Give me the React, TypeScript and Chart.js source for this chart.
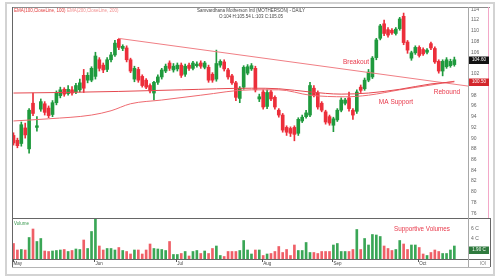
import React, { useEffect, useRef } from "react";
import { Chart, registerables } from "chart.js";

Chart.register(...registerables);

// ---- Daily candles (MOTHERSON), May–Oct ----
const opens = [
  90.5, 89.6, 89.0, 91.9, 88.0, 96.5, 92.0, 95.4, 96.4, 95.6,
  94.4, 96.6, 97.9, 99.1, 98.3, 99.0, 98.6, 99.0, 101.7, 100.8,
  100.8, 101.5, 104.6, 103.6, 102.8, 104.6, 105.5, 108.4, 106.7, 106.8,
  104.6, 101.0, 102.8, 101.5, 100.8, 99.8, 98.4, 100.4, 101.4, 102.5,
  104.0, 102.7, 102.9, 103.6, 101.9, 103.6, 103.0, 103.5, 104.0, 103.2,
  103.2, 101.9, 101.0, 103.6, 104.2, 102.7, 101.6, 100.3, 97.4, 99.5,
  102.1, 102.9, 103.0, 97.3, 98.6, 95.9, 98.6, 97.6, 95.2, 94.3,
  92.0, 91.8, 92.0, 90.9, 93.2, 94.0, 94.3, 99.3, 98.4, 96.5,
  94.9, 94.0, 92.4, 93.4, 95.2, 96.5, 97.5, 95.2, 95.0, 99.5,
  99.2, 100.8, 101.4, 105.0, 108.6, 111.3, 110.2, 110.1, 109.5, 110.4,
  112.7, 107.9, 104.9, 105.9, 106.9, 106.5, 106.0, 107.6, 106.7, 104.3,
  102.5, 103.3, 103.5, 103.7,
];
const highs = [
  91.0, 90.0, 93.0, 92.8, 95.5, 98.4, 94.0, 97.3, 96.8, 96.0,
  97.0, 98.8, 99.5, 99.4, 99.8, 99.6, 100.2, 101.0, 102.8, 102.2,
  103.3, 106.0, 105.0, 104.0, 105.0, 106.0, 108.2, 108.6, 107.4, 107.2,
  104.9, 103.4, 103.2, 101.8, 101.1, 100.1, 100.6, 101.8, 103.0, 103.8,
  104.4, 103.9, 104.0, 104.0, 103.8, 104.0, 104.3, 104.2, 104.4, 104.3,
  103.6, 102.2, 106.4, 104.6, 104.6, 103.0, 101.9, 100.6, 99.6, 103.5,
  103.7, 103.9, 103.4, 98.2, 99.0, 99.0, 98.9, 97.9, 95.5, 94.6,
  92.3, 92.1, 92.3, 93.8, 94.3, 95.2, 100.4, 99.8, 98.8, 96.8,
  95.2, 94.3, 93.9, 95.5, 97.5, 97.4, 98.6, 95.5, 99.0, 99.9,
  101.2, 102.8, 105.2, 108.6, 111.2, 112.0, 110.6, 110.4, 110.6, 112.5,
  113.3, 108.2, 106.2, 107.2, 107.2, 106.8, 106.7, 107.9, 107.0, 104.6,
  104.6, 105.0, 104.7, 105.1,
];
const lows = [
  88.7, 88.2, 88.5, 90.0, 87.2, 94.2, 91.3, 95.0, 94.3, 93.8,
  94.0, 96.2, 97.5, 97.8, 98.0, 98.0, 98.3, 98.6, 98.5, 100.3,
  100.5, 101.0, 102.5, 102.2, 102.4, 104.2, 105.2, 106.5, 106.3, 104.2,
  102.2, 100.5, 100.4, 99.5, 99.2, 98.4, 97.1, 100.0, 101.0, 102.2,
  102.6, 102.3, 102.5, 101.3, 101.5, 102.6, 102.7, 103.2, 103.0, 102.9,
  100.4, 100.4, 100.6, 103.2, 102.5, 101.0, 100.0, 97.0, 96.6, 99.1,
  101.8, 102.6, 98.6, 96.8, 95.4, 95.5, 97.0, 95.4, 93.9, 91.1,
  90.5, 90.3, 89.5, 90.5, 92.9, 93.7, 94.0, 97.7, 95.4, 94.9,
  92.6, 92.4, 91.2, 93.1, 94.9, 96.2, 95.0, 93.5, 94.6, 98.5,
  98.9, 100.5, 101.1, 104.6, 108.3, 109.1, 108.8, 109.3, 109.2, 110.1,
  107.4, 105.8, 104.5, 105.6, 105.1, 105.4, 105.7, 106.5, 103.9, 102.1,
  101.6, 103.0, 103.2, 103.4,
];
const closes = [
  89.1, 88.6, 92.5, 90.6, 95.2, 94.6, 92.3, 96.8, 94.8, 94.2,
  96.6, 98.4, 99.0, 98.2, 99.1, 98.4, 99.8, 100.3, 99.3, 101.7,
  103.0, 105.3, 103.0, 102.7, 104.6, 105.5, 107.7, 106.9, 107.1, 104.6,
  102.5, 103.0, 100.8, 99.8, 99.5, 98.8, 100.4, 101.4, 102.7, 103.4,
  103.0, 103.4, 103.6, 101.7, 103.4, 103.0, 104.0, 103.8, 103.4, 104.0,
  100.8, 100.8, 103.9, 104.3, 102.9, 101.4, 100.3, 97.6, 99.3, 103.2,
  103.3, 103.5, 99.0, 97.7, 95.8, 98.5, 97.3, 95.8, 94.3, 91.5,
  91.1, 90.9, 90.7, 93.5, 93.9, 94.7, 99.8, 98.0, 95.8, 95.2,
  93.0, 92.8, 93.6, 95.2, 97.1, 97.1, 95.5, 94.3, 98.6, 98.9,
  100.8, 102.3, 104.9, 108.3, 110.9, 109.5, 109.2, 109.6, 110.3, 112.2,
  107.8, 106.4, 105.9, 106.9, 105.4, 105.7, 106.4, 106.8, 104.2, 102.5,
  104.3, 104.6, 104.3, 104.6,
];
// volume in crore shares
const volumes = [
  3.1, 1.8, 1.9, 1.8, 4.3, 6.0, 3.5, 4.1, 1.6, 1.5,
  1.6, 1.7, 1.8, 1.9, 1.5, 1.7, 2.0, 1.9, 3.8, 2.1,
  5.5, 8.1, 2.6, 1.8, 2.1, 2.1, 1.8, 2.3, 1.7, 1.5,
  1.0, 1.8, 1.8, 1.0, 1.8, 3.0, 2.1, 2.0, 1.9, 1.7,
  3.5, 0.9, 0.9, 1.1, 1.5, 0.6, 1.5, 1.7, 1.1, 1.6,
  1.1, 2.1, 2.6, 0.7, 0.5, 1.5, 1.5, 1.5, 1.7, 3.7,
  1.8, 1.0, 1.8, 1.8, 0.7, 1.0, 1.1, 1.5, 2.5, 1.3,
  1.9, 0.7, 2.8, 1.7, 1.7, 3.3, 1.3, 1.3, 1.1, 1.5,
  1.5, 1.5, 2.8, 3.1, 1.5, 1.5, 1.5, 1.9, 5.9, 1.9,
  4.1, 2.8, 4.9, 4.8, 4.5, 2.6, 2.1, 1.7, 1.9, 3.7,
  3.0, 1.9, 2.8, 2.8, 2.3, 1.0, 0.7, 1.3, 1.8, 1.5,
  1.1, 1.1, 1.8, 2.6,
];

// EMA lines: key points (candle index, value)
const ema100Index = [0, 12, 27, 43, 61, 68, 76, 84, 91, 99, 107, 113];
const ema100Value = [98.4, 98.5, 98.7, 99.0, 99.3, 99.2, 98.6, 98.2, 98.4, 99.1, 100.1, 100.5];
const ema200Index = [0, 9, 20, 25, 30, 38, 48, 61, 68, 76, 85, 91, 99, 107, 113];
const ema200Value = [93.2, 93.6, 94.3, 95.1, 96.4, 97.1, 98.0, 99.0, 99.0, 98.0, 97.7, 98.0, 99.0, 99.9, 100.6];

// Falling trendline from the June high
const trendIndex = [26.8, 116.5];
const trendValue = [108.6, 99.7];

const monthLabels = ["May", "Jun", "Jul", "Aug", "Sep", "Oct"];
const monthStarts = [0, 21, 42, 64, 82, 104];

const priceTicks = [76, 78, 80, 82, 84, 86, 88, 90, 92, 94, 96, 98, 100, 102, 104, 106, 108, 110, 112, 114];
const volumeTicks = [4, 6];
const volumeBoxValue = 1.9;

const titleLine1 = "Samvardhana Motherson Intl (MOTHERSON) - DAILY";
const titleLine2 = "O:104 H:105.54 L:103 C:105.05";
const legend1 = "EMA(100,CloseLine, 100)";
const legend2 = "EMA(200,CloseLine, 200)";

const FONT = "'Liberation Sans', Arial, sans-serif";
const GREEN = "#1f9a3d";
const RED = "#ec2e3a";
const VGREEN = "#3aa656";
const VRED = "#ef5f67";
const NOTE = "#e8384a";

export default function App() {
  const ref = useRef<HTMLCanvasElement>(null);

  useEffect(() => {
    const canvas = ref.current;
    if (!canvas) return;
    const idx = opens.map((_, i) => i);
    const up = idx.map((i) => closes[i] >= opens[i]);
    const candleColors = up.map((u) => (u ? GREEN : RED));
    const volColors = up.map((u) => (u ? VGREEN : VRED));
    const last = opens.length - 1;

    const overlay = {
      id: "overlay",
      afterDraw(chart: any) {
        const ctx = chart.ctx as CanvasRenderingContext2D;
        const xs = chart.scales.x;
        const ys = chart.scales.y;
        const yv = chart.scales.yv;
        const { left: L, right: R, top: T, bottom: B } = chart.chartArea;
        const AX = R + 22;
        const sep = yv.top;
        ctx.save();
        const hline = (y: number, x0: number, x1: number, c: string) => {
          ctx.strokeStyle = c; ctx.lineWidth = 1; ctx.beginPath();
          ctx.moveTo(x0, Math.round(y) + 0.5); ctx.lineTo(x1, Math.round(y) + 0.5); ctx.stroke();
        };
        const vline = (x: number, y0: number, y1: number, c: string) => {
          ctx.strokeStyle = c; ctx.lineWidth = 1; ctx.beginPath();
          ctx.moveTo(Math.round(x) + 0.5, y0); ctx.lineTo(Math.round(x) + 0.5, y1); ctx.stroke();
        };
        const txt = (s: string, x: number, y: number, c: string, size: number, align: CanvasTextAlign = "left") => {
          ctx.fillStyle = c; ctx.font = `${size}px ${FONT}`; ctx.textAlign = align; ctx.textBaseline = "middle";
          ctx.fillText(s, x, y);
        };
        // frame
        hline(T, L, AX, "#8c8c8c");
        vline(L, T, B + 8, "#666");
        hline(sep, L, AX, "#666");
        hline(B, L, AX, "#666");
        vline(R, T, B + 8, "#a8a8a8");
        vline(AX - 2, T, sep, "#f3a8c8");
        vline(AX, sep, B + 8, "#666");
        hline(B + 8, L, AX, "#b4b4b4");

        // month axis
        monthStarts.forEach((m, k) => {
          const px = xs.getPixelForValue(m) - 1;
          vline(px, B, B + 3, "#555");
          txt(monthLabels[k], px + 1, B + 5, "#444", 4.5);
        });

        // titles & legend
        txt(titleLine1, 251, T + 3.5, "#444", 4.5, "center");
        txt(titleLine2, 251, T + 10, "#444", 4.5, "center");
        txt(legend1, L + 2, T + 4, "#e23b3b", 4.5);
        txt(legend2, L + 55, T + 4, "#f29090", 4.5);
        txt("Volume", L + 2, sep + 6, "#3a9a50", 4.5);

        // annotations
        txt("Breakout", 356, 62, NOTE, 6.5, "center");
        txt("MA Support", 396, 102, NOTE, 6.5, "center");
        txt("Rebound", 447, 92, NOTE, 6.5, "center");
        txt("Supportive Volumes", 422, 229, NOTE, 6.3, "center");

        // axis value boxes
        const box = (y: number, bg: string, s: string) => {
          ctx.fillStyle = bg;
          ctx.fillRect(R + 1, Math.round(y) - 3.5, 20, 7.5);
          txt(s, R + 11, y + 0.3, "#fff", 4.5, "center");
        };
        box(ys.getPixelForValue(closes[last]), "#121212", closes[last].toFixed(2));
        box(ys.getPixelForValue(ema100Value[ema100Value.length - 1]), "#d3262c", ema100Value[ema100Value.length - 1].toFixed(2));
        box(yv.getPixelForValue(volumeBoxValue), "#2f7a3e", volumeBoxValue.toFixed(2) + " C");

        txt("IOI", AX - 4, B + 5, "#777", 4.5, "right");
        ctx.restore();
      },
    };

    const chart = new Chart(canvas, {
      type: "bar",
      data: {
        datasets: [
          {
            type: "line",
            data: ema100Index.map((x, k) => ({ x, y: ema100Value[k] })),
            borderColor: "#e5484f",
            borderWidth: 1,
            pointRadius: 0,
            cubicInterpolationMode: "monotone",
            yAxisID: "y",
            order: 0,
          } as any,
          {
            type: "line",
            data: ema200Index.map((x, k) => ({ x, y: ema200Value[k] })),
            borderColor: "#ee6a70",
            borderWidth: 1,
            pointRadius: 0,
            cubicInterpolationMode: "monotone",
            yAxisID: "y",
            order: 0,
          } as any,
          {
            type: "line",
            data: trendIndex.map((x, k) => ({ x, y: trendValue[k] })),
            borderColor: "#f07f85",
            borderWidth: 1,
            pointRadius: 0,
            yAxisID: "y",
            order: 0,
          } as any,
          {
            type: "bar",
            data: idx.map((i) => ({ x: i, y: [opens[i], closes[i]] })),
            backgroundColor: candleColors,
            grouped: false,
            barPercentage: 1,
            categoryPercentage: 1,
            maxBarThickness: 3,
            minBarLength: 1,
            yAxisID: "y",
            order: 1,
          } as any,
          {
            type: "bar",
            data: idx.map((i) => ({ x: i, y: [lows[i], highs[i]] })),
            backgroundColor: candleColors,
            grouped: false,
            barPercentage: 1,
            categoryPercentage: 1,
            maxBarThickness: 1,
            yAxisID: "y",
            order: 2,
          } as any,
          {
            type: "bar",
            data: idx.map((i) => ({ x: i, y: volumes[i] })),
            backgroundColor: volColors,
            grouped: false,
            barPercentage: 1,
            categoryPercentage: 1,
            maxBarThickness: 2,
            yAxisID: "yv",
            order: 3,
          } as any,
        ],
      },
      options: {
        responsive: false,
        animation: false,
        devicePixelRatio: 1,
        layout: { padding: { left: 12, top: 7, right: 10, bottom: 21 } },
        plugins: { legend: { display: false }, tooltip: { enabled: false } },
        scales: {
          x: { type: "linear", min: -0.385, max: 116.5, offset: false, display: false },
          y: {
            type: "linear",
            position: "right",
            stack: "panes",
            stackWeight: 211,
            min: 75.12,
            max: 114.43,
            grid: { display: false, drawTicks: false },
            border: { display: false },
            afterFit: (s: any) => { s.width = 22; },
            afterBuildTicks: (s: any) => { s.ticks = priceTicks.map((v) => ({ value: v })); },
            ticks: { font: { size: 5, family: FONT }, color: "#666", padding: 3, autoSkip: false },
          },
          yv: {
            type: "linear",
            position: "right",
            stack: "panes",
            stackWeight: 41,
            min: 0,
            max: 8.2,
            grid: { display: false, drawTicks: false },
            border: { display: false },
            afterFit: (s: any) => { s.width = 22; },
            afterBuildTicks: (s: any) => { s.ticks = volumeTicks.map((v) => ({ value: v })); },
            ticks: { font: { size: 5, family: FONT }, color: "#666", padding: 3, autoSkip: false, callback: (v: any) => `${v} C` },
          },
        },
      } as any,
      plugins: [overlay],
    });
    return () => chart.destroy();
  }, []);

  return (
    <div style={{ position: "fixed", left: 0, top: 0, width: 500, height: 280, background: "#fff" }}>
      <div style={{ position: "absolute", left: 5, top: 2, width: 490, height: 274, border: "2px solid #d3d3d3", boxSizing: "border-box" }} />
      <canvas ref={ref} width={500} height={280} style={{ position: "absolute", left: 0, top: 0, width: 500, height: 280 }} />
    </div>
  );
}
